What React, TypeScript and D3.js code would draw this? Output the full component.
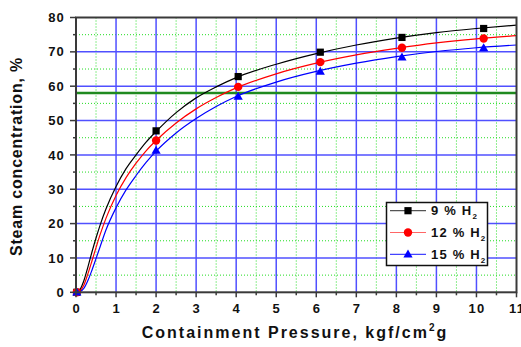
import React from "react";
import * as d3 from "d3";

const xTicks = [0, 1, 2, 3, 4, 5, 6, 7, 8, 9, 10, 11];
const yTicks = [0, 10, 20, 30, 40, 50, 60, 70, 80];
const thresholdValue = 58;

// measured points (markers)
const markerP9 = [0.02, 2.0, 4.05, 6.1, 8.14, 10.18];
const markerV9 = [0, 47, 62.8, 69.9, 74.2, 76.8];
const markerP12 = [0.02, 2.0, 4.05, 6.1, 8.14, 10.18];
const markerV12 = [0, 44.2, 59.8, 67.0, 71.2, 73.9];
const markerP15 = [0.02, 2.0, 4.05, 6.1, 8.14, 10.18];
const markerV15 = [0, 41.3, 57.0, 64.3, 68.4, 71.1];

// fitted curves
const curveP = [0.02, 0.1, 0.2, 0.3, 0.4, 0.5, 0.6, 0.75, 1.0, 1.25, 1.5, 1.75, 2.0, 2.5, 3.0, 3.5, 4.0, 5.0, 6.0, 7.0, 8.0, 9.0, 10.0, 11.0];
const curveV9 = [0, 0.8, 3.5, 7.5, 11.8, 15.8, 19.5, 24.3, 30.8, 36, 40, 43.7, 46.8, 52.3, 56.6, 59.8, 62.5, 66.4, 69.5, 72, 74, 75.6, 76.8, 77.8];
const curveV12 = [0, 0.4, 2.2, 5.5, 9.2, 13, 16.7, 21.6, 28.2, 33.4, 37.6, 41.2, 44.2, 49.3, 53.4, 56.7, 59.5, 63.6, 66.7, 69.1, 71.0, 72.6, 73.8, 74.7];
const curveV15 = [0, 0.2, 1.2, 3.5, 6.5, 9.8, 13.2, 18.2, 24.6, 29.8, 34.0, 37.8, 41.1, 46.4, 50.6, 54.1, 57.0, 61.2, 64.3, 66.7, 68.6, 70.1, 71.2, 72.0];

const seriesNames = ["9 % H", "12 % H", "15 % H"];
const seriesColors = ["#000000", "#ff0000", "#0000ff"];
const legendLineColors = ["#555555", "#ff6666", "#4444ff"];

const W = 521;
const H = 347;
const M = { left: 76, right: 516.5, top: 17.5, bottom: 292.3 };
const FONT = "'Liberation Sans', Arial, Helvetica, sans-serif";

function Marker({ kind, x, y, color }: { kind: number; x: number; y: number; color: string }) {
  if (kind === 0) return <rect x={x - 3.6} y={y - 3.6} width={7.2} height={7.2} fill={color} />;
  if (kind === 1) return <circle cx={x} cy={y} r={4.2} fill={color} />;
  return <path d={`M${x},${y - 4.8}L${x + 4.6},${y + 3.2}L${x - 4.6},${y + 3.2}Z`} fill={color} />;
}

export default function App() {
  const x = d3.scaleLinear().domain([0, 11]).range([M.left, M.right]);
  const y = d3.scaleLinear().domain([0, 80]).range([M.bottom, M.top]);

  const curves = [curveV9, curveV12, curveV15];
  const markers = [
    [markerP9, markerV9],
    [markerP12, markerV12],
    [markerP15, markerV15],
  ];

  const line = d3
    .line<[number, number]>()
    .x((d) => x(d[0]))
    .y((d) => y(d[1]))
    .curve(d3.curveMonotoneX);

  const minorX = d3.range(0.5, 11, 1);
  const minorY = d3.range(5, 80, 10);
  const tickFont = { fontFamily: FONT, fontWeight: 700, fontSize: 13, letterSpacing: 1.2 } as const;

  return (
    <svg width={W} height={H} style={{ position: "absolute", left: 0, top: 0 }}>
      <rect width={W} height={H} fill="#fff" />
      <defs>
        <clipPath id="plot">
          <rect x={M.left} y={M.top} width={M.right - M.left} height={M.bottom - M.top} />
        </clipPath>
      </defs>
      {/* minor grid */}
      {minorX.map((v) => (
        <line key={"mx" + v} x1={x(v)} x2={x(v)} y1={M.top} y2={M.bottom} stroke="#22dd22" strokeWidth={1} strokeDasharray="1,2" />
      ))}
      {minorY.map((v) => (
        <line key={"my" + v} x1={M.left} x2={M.right} y1={y(v)} y2={y(v)} stroke="#22dd22" strokeWidth={1} strokeDasharray="1,2" />
      ))}
      {/* major grid */}
      {xTicks.slice(1, -1).map((v) => (
        <line key={"gx" + v} x1={x(v)} x2={x(v)} y1={M.top} y2={M.bottom} stroke="#5050ff" strokeWidth={1.5} />
      ))}
      {yTicks.slice(1, -1).map((v) => (
        <line key={"gy" + v} x1={M.left} x2={M.right} y1={y(v)} y2={y(v)} stroke="#5050ff" strokeWidth={1.5} />
      ))}
      {/* threshold */}
      <line x1={M.left} x2={M.right} y1={y(thresholdValue)} y2={y(thresholdValue)} stroke="#1f8a1f" strokeWidth={2.6} />
      {/* curves */}
      <g clipPath="url(#plot)">
        {curves.map((vs, i) => (
          <path
            key={"c" + i}
            d={line(curveP.map((p, j) => [p, vs[j]] as [number, number])) || ""}
            fill="none"
            stroke={seriesColors[i]}
            strokeWidth={1.2}
          />
        ))}
      </g>
      {markers.map(([ps, vs], i) => (
        <g key={"m" + i}>
          {ps.map((p, j) => (
            <Marker key={j} kind={i} x={x(p)} y={y(vs[j])} color={seriesColors[i]} />
          ))}
        </g>
      ))}
      {/* frame */}
      <rect x={M.left} y={M.top} width={M.right - M.left} height={M.bottom - M.top} fill="none" stroke="#3a3a3a" strokeWidth={2} />
      {/* ticks */}
      {xTicks.map((v) => (
        <line key={"tx" + v} x1={x(v)} x2={x(v)} y1={M.bottom} y2={M.bottom + 5} stroke="#3a3a3a" strokeWidth={1.5} />
      ))}
      {minorX.map((v) => (
        <line key={"tmx" + v} x1={x(v)} x2={x(v)} y1={M.bottom} y2={M.bottom + 3} stroke="#3a3a3a" strokeWidth={1.5} />
      ))}
      {yTicks.map((v) => (
        <line key={"ty" + v} x1={M.left - 6} x2={M.left} y1={y(v)} y2={y(v)} stroke="#3a3a3a" strokeWidth={1.5} />
      ))}
      {minorY.map((v) => (
        <line key={"tmy" + v} x1={M.left - 3} x2={M.left} y1={y(v)} y2={y(v)} stroke="#3a3a3a" strokeWidth={1.5} />
      ))}
      {/* tick labels */}
      {xTicks.map((v) => (
        <text key={"lx" + v} x={x(v) + 0.6} y={312.7} textAnchor="middle" {...tickFont} fill="#111">
          {v}
        </text>
      ))}
      {yTicks.map((v) => (
        <text key={"ly" + v} x={65} y={y(v) + 4.6} textAnchor="end" {...tickFont} fill="#111">
          {v}
        </text>
      ))}
      {/* axis titles */}
      <text x={295} y={338} textAnchor="middle" fontFamily={FONT} fontWeight={700} fontSize={16} letterSpacing={2} fill="#111">
        Containment Pressure, kgf/cm
        <tspan fontSize={10} dy={-7}>2</tspan>
        <tspan dy={7}>g</tspan>
      </text>
      <text
        transform={`translate(22,156.5) rotate(-90)`}
        textAnchor="middle"
        fontFamily={FONT}
        fontWeight={700}
        fontSize={16}
        letterSpacing={0.8}
        fill="#111"
      >
        Steam concentration, %
      </text>
      {/* legend */}
      <rect x={386.5} y={202.5} width={101} height={63} fill="#fff" stroke="#111" strokeWidth={1.5} />
      {seriesNames.map((name, i) => {
        const ly = 210.7 + i * 21.8;
        return (
          <g key={"lg" + i}>
            <line x1={390} x2={426} y1={ly} y2={ly} stroke={legendLineColors[i]} strokeWidth={1.2} />
            <Marker kind={i} x={408} y={ly} color={seriesColors[i]} />
            <text x={431} y={ly + 4.6} fontFamily={FONT} fontWeight={700} fontSize={13} letterSpacing={1.2} fill="#111">
              {name}
              <tspan fontSize={8} dy={4}>2</tspan>
            </text>
          </g>
        );
      })}
    </svg>
  );
}
